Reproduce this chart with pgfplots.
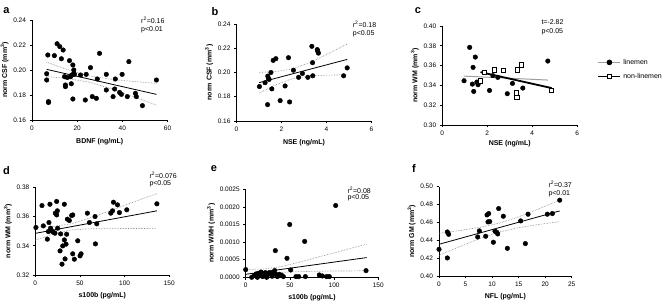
\documentclass[border=0pt]{standalone}
\usepackage{fontspec}
\setmainfont{Liberation Sans}
\usepackage{pgfplots}
\pgfplotsset{compat=1.18}
\definecolor{bandgray}{gray}{0.5}
\definecolor{linegray}{gray}{0.62}

\pgfplotsset{
  gp/.style={
    scale only axis,
    anchor=south west,
    axis lines=left,
    axis line style={-, line width=0.7pt, black},
    every tick/.style={black, line width=0.7pt},
    tick align=outside,
    major tick length=2.5pt,
    minor tick num=0,
    clip=false,
    tick label style={font=\fontsize{6.5}{7}\selectfont},
    label style={font=\fontsize{7}{8}\selectfont\bfseries},
    /pgf/number format/assume math mode=true,
    ylabel style={at={(ticklabel cs:0.5)}, anchor=near ticklabel, inner sep=1.2pt},
    xlabel style={anchor=center},
  },
  y2/.style={yticklabel style={/pgf/number format/.cd, fixed, fixed zerofill, precision=2}},
  pts/.style={only marks, mark=*, mark size=2.3pt, black, mark options={fill=black}},
  reg/.style={no marks, black, line width=0.8pt},
  band/.style={no marks, bandgray, densely dotted, line width=0.6pt},
}

\begin{document}
\begin{tikzpicture}[x=1pt,y=1pt]
\path[use as bounding box] (0,0) rectangle (668,302);

% ---------------- a ----------------
\begin{axis}[gp, y2, at={(32pt,182pt)}, width=135.5pt, height=100pt,
  xmin=0, xmax=60, ymin=0.16, ymax=0.24,
  xtick={0,20,40,60}, ytick={0.16,0.18,0.20,0.22,0.24},
  xlabel={BDNF (ng/mL)}, ylabel={norm CSF (mm\textsuperscript{3})},
  xlabel style={at={(axis description cs:0.5,-0.22)}}]
\addplot[pts] coordinates {(7.0,0.2120)(6.5,0.1970)(6.5,0.1920)(7.3,0.1747)(7.3,0.1740)(9.9,0.2115)(11.1,0.2210)(12.3,0.2187)(13.8,0.2160)(13.0,0.2090)(14.4,0.1947)(14.8,0.1880)(14.8,0.1867)(15.6,0.1940)(16.6,0.2075)(17.1,0.1947)(17.4,0.1890)(18.1,0.2040)(18.5,0.2000)(18.5,0.1970)(18.1,0.1768)(17.6,0.1960)(18.8,0.1965)(21.5,0.1960)(23.6,0.1760)(24.0,0.1965)(25.9,0.2019)(26.7,0.1787)(28.5,0.1773)(28.9,0.1928)(29.9,0.2133)(32.9,0.1840)(32.9,0.1965)(35.9,0.1787)(36.6,0.1848)(36.9,0.1928)(38.8,0.1820)(39.6,0.1805)(39.9,0.1965)(42.2,0.1787)(42.9,0.2067)(45.8,0.1813)(46.2,0.1787)(48.9,0.1715)(55.1,0.1920)};
\addplot[reg] coordinates {(6.5,0.2005)(55.1,0.1805)};
\addplot[band] coordinates {(6.5,0.2062)(15,0.2008)(25,0.1954)(35,0.1926)(45,0.1908)(55.1,0.1893)};
\addplot[band] coordinates {(6.5,0.1948)(15,0.1933)(25,0.1904)(35,0.1851)(45,0.1786)(55.1,0.1719)};
\end{axis}

% ---------------- b ----------------
\begin{axis}[gp, y2, at={(236.5pt,181pt)}, width=135pt, height=97pt,
  xmin=0, xmax=6, ymin=0.16, ymax=0.24,
  xtick={0,2,4,6}, ytick={0.16,0.18,0.20,0.22,0.24},
  xlabel={NSE (ng/mL)}, ylabel={norm CSF (mm\textsuperscript{3})},
  xlabel style={at={(axis description cs:0.5,-0.225)}}]
\addplot[pts] coordinates {(1.02,0.1884)(1.27,0.1916)(1.39,0.1970)(1.42,0.1951)(1.45,0.1943)(1.53,0.2000)(1.57,0.1865)(1.38,0.1735)(1.63,0.2100)(1.75,0.2114)(1.94,0.1768)(2.16,0.1889)(2.31,0.2122)(2.36,0.1757)(2.53,0.2019)(2.76,0.1960)(2.93,0.1992)(3.17,0.1960)(3.35,0.2216)(3.38,0.2081)(3.39,0.1973)(3.59,0.2189)(3.61,0.2176)(3.64,0.2160)(4.76,0.1973)(4.92,0.2038)};
\addplot[reg] coordinates {(1.0,0.1916)(4.92,0.2108)};
\addplot[band] coordinates {(1.0,0.2001)(1.75,0.2008)(2.5,0.2030)(3.25,0.2081)(4.0,0.2148)(4.92,0.2235)};
\addplot[band] coordinates {(1.0,0.1831)(1.75,0.1898)(2.5,0.1950)(3.25,0.1971)(4.0,0.1978)(4.92,0.1981)};
\end{axis}

% ---------------- c ----------------
\begin{axis}[gp, y2, at={(442.2pt,177pt)}, width=135.1pt, height=99pt,
  xmin=0, xmax=6, ymin=0.30, ymax=0.40,
  xtick={0,2,4,6}, ytick={0.30,0.32,0.34,0.36,0.38,0.40},
  xlabel={NSE (ng/mL)}, ylabel={norm WM (mm\textsuperscript{3})},
  xlabel style={at={(axis description cs:0.5,-0.19)}},
  legend style={at={(axis description cs:1.148,0.561)}, anchor=west, draw=none, fill=none,
    font=\fontsize{7}{8}\selectfont, row sep=3.5pt, inner sep=0pt, cells={anchor=west}},
  legend image code/.code={\draw[mark repeat=2,mark phase=2] plot coordinates {(0pt,0pt) (11pt,0pt) (22pt,0pt)};}]
\addlegendimage{linegray, line width=1pt, mark=*, mark size=2.3pt, mark options={black, fill=black, solid}}
\addlegendentry{linemen}
\addlegendimage{black, line width=1.8pt, mark=square*, mark size=2.2pt, mark options={fill=white, draw=black, line width=0.7pt, solid}}
\addlegendentry{non-linemen}
\addplot[forget plot, no marks, linegray, line width=1pt] coordinates {(0.97,0.3494)(4.69,0.3454)};
\addplot[forget plot, no marks, black, line width=1.8pt] coordinates {(1.70,0.3534)(4.86,0.3373)};
\addplot[forget plot, pts] coordinates {(0.97,0.3447)(1.22,0.3784)(1.37,0.3582)(1.34,0.3413)(1.40,0.3339)(1.47,0.3686)(1.54,0.3434)(1.59,0.3407)(2.10,0.3349)(2.25,0.3498)(2.47,0.3481)(2.89,0.3316)(3.12,0.3420)(3.58,0.3373)(4.69,0.3646)};
\addplot[forget plot, only marks, mark=square*, mark size=2.2pt, mark options={fill=white, draw=black, line width=0.7pt}] coordinates {(1.70,0.3447)(1.88,0.3531)(2.32,0.3558)(2.71,0.3555)(3.33,0.3558)(3.52,0.3609)(3.30,0.3323)(3.31,0.3282)(4.86,0.3349)};
\end{axis}

% ---------------- d ----------------
\begin{axis}[gp, y2, at={(35.3pt,27pt)}, width=134pt, height=87.7pt,
  xmin=0, xmax=150, ymin=0.32, ymax=0.38,
  xtick={0,50,100,150}, ytick={0.32,0.34,0.36,0.38},
  xlabel={s100b (pg/mL)}, ylabel={norm WM (mm\textsuperscript{3})},
  xlabel style={at={(axis description cs:0.5,-0.235)}}]
\addplot[pts] coordinates {(0.7,0.3525)(7.5,0.3675)(9.0,0.3536)(13.5,0.3445)(14.6,0.3497)(15.3,0.3559)(16.4,0.3684)(17.2,0.3520)(18.3,0.3502)(20.2,0.3493)(22.0,0.3486)(22.4,0.3623)(23.9,0.3703)(23.9,0.3611)(24.7,0.3639)(25.0,0.3520)(27.7,0.3365)(28.4,0.3481)(29.9,0.3274)(30.7,0.3399)(32.5,0.3684)(32.5,0.3440)(33.3,0.3310)(34.4,0.3411)(35.1,0.3479)(35.9,0.3582)(38.1,0.3573)(40.7,0.3607)(41.9,0.3611)(41.9,0.3345)(43.7,0.3308)(47.5,0.3434)(50.1,0.3331)(51.2,0.3345)(58.3,0.3623)(60.6,0.3559)(66.9,0.3600)(67.3,0.3413)(68.8,0.3550)(84.5,0.3623)(86.4,0.3639)(87.5,0.3698)(92.0,0.3680)(94.2,0.3627)(102.4,0.3646)(136.1,0.3687)};
\addplot[reg] coordinates {(0,0.3485)(136.1,0.3639)};
\addplot[band] coordinates {(0,0.3530)(20,0.3532)(40,0.3550)(60,0.3588)(80,0.3631)(100,0.3676)(120,0.3722)(136.1,0.3756)};
\addplot[band] coordinates {(0,0.3438)(20,0.3480)(40,0.3508)(60,0.3516)(80,0.3517)(100,0.3518)(120,0.3518)(136.1,0.3519)};
\end{axis}

% ---------------- e ----------------
\begin{axis}[gp, at={(245.7pt,24.7pt)}, width=132.6pt, height=88pt,
  xmin=0, xmax=150, ymin=0, ymax=0.0025,
  xtick={0,50,100,150}, ytick={0,0.0005,0.0010,0.0015,0.0020,0.0025},
  scaled y ticks=false,
  yticklabel style={/pgf/number format/.cd, fixed, fixed zerofill, precision=4},
  xlabel={s100b (pg/mL)}, ylabel={norm WMH (mm\textsuperscript{3})},
  xlabel style={at={(axis description cs:0.5,-0.235)}}]
\addplot[pts] coordinates {(0,0.000218)(6.8,0)(9.4,0.000047)(11.7,0.000095)(13.2,0)(14.3,0.000114)(16.2,0.000047)(17.3,0.00015)(19.2,0.00002)(20.7,0.000085)(22.2,0.000133)(23.7,0)(25.3,0.000085)(26.8,0.000133)(28.6,0.000114)(29.8,0.00003)(31.3,0.00015)(32.8,0.00019)(33.5,0.000758)(34.3,0.000085)(35.8,0.00002)(38.1,0.000085)(40.7,0.000057)(42.6,0.00002)(46.7,0.00054)(49.8,0.0015)(50.9,0.000208)(56.9,0.00002)(60.0,0.00002)(66.7,0.00102)(67.5,0.00002)(83.3,0.000066)(86.7,0.000038)(91.6,0.00002)(94.6,0.00002)(101.8,0.00204)(136.1,0.00019)};
\addplot[reg] coordinates {(0,0.000085)(136.8,0.00056)};
\addplot[band] coordinates {(0,0.000225)(20,0.000234)(40,0.000304)(60,0.000423)(80,0.000563)(100,0.000692)(120,0.000831)(136.8,0.00094)};
\addplot[band] coordinates {(0,0)(20,0.00007)(40,0.00014)(60,0.00016)(80,0.00017)(100,0.00018)(120,0.00018)(136.8,0.00019)};
\end{axis}

% ---------------- f ----------------
\begin{axis}[gp, y2, at={(439pt,26pt)}, width=132.7pt, height=89.3pt,
  xmin=0, xmax=25, ymin=0.40, ymax=0.50,
  xtick={0,5,10,15,20,25}, ytick={0.40,0.42,0.44,0.46,0.48,0.50},
  xlabel={NFL (pg/mL)}, ylabel={norm GM (mm\textsuperscript{3})},
  xlabel style={at={(axis description cs:0.5,-0.23)}}]
\addplot[pts] coordinates {(0,0.4299)(1.57,0.4202)(1.57,0.4493)(1.82,0.4467)(7.29,0.4437)(7.6,0.4505)(8.79,0.4445)(9.05,0.4684)(9.36,0.4699)(9.23,0.4606)(9.55,0.4609)(10.24,0.4378)(10.55,0.4501)(10.87,0.4490)(11.06,0.4471)(11.24,0.4755)(12.12,0.4669)(12.88,0.4310)(15.39,0.4617)(16.27,0.4363)(16.77,0.4692)(20.41,0.4692)(21.36,0.4699)(22.74,0.4849)};
\addplot[reg] coordinates {(0,0.4355)(22.74,0.4729)};
\addplot[band] coordinates {(0,0.4478)(4,0.4510)(8,0.4548)(11.5,0.4594)(15,0.4663)(19,0.4757)(22.74,0.4850)};
\addplot[band] coordinates {(0,0.4232)(4,0.4332)(8,0.4426)(11.5,0.4494)(15,0.4541)(19,0.4579)(22.74,0.4608)};
\end{axis}

% ---------------- annotations ----------------
\begin{scope}[every node/.style={anchor=west, inner sep=0pt, font=\fontsize{7}{8}\selectfont}]
\node at (141,281.5) {r\textsuperscript{2}=0.16};
\node at (141,272) {p<0.01};
\node at (352.7,277.3) {r\textsuperscript{2}=0.18};
\node at (352.7,268.3) {p<0.05};
\node at (541.3,279.5) {t=-2.82};
\node at (541.3,270.5) {p<0.05};
\node at (149.3,126.5) {r\textsuperscript{2}=0.076};
\node at (149.3,118) {p<0.05};
\node at (347.3,111.5) {r\textsuperscript{2}=0.08};
\node at (347.3,104) {p<0.05};
\node at (548.3,117.3) {r\textsuperscript{2}=0.37};
\node at (548.3,108.7) {p<0.01};
\end{scope}
\begin{scope}[every node/.style={anchor=center, inner sep=0pt, font=\fontsize{11}{12}\selectfont\bfseries}]
\node at (6.5,291) {a};
\node at (215,290) {b};
\node at (418,291) {c};
\node at (6.5,131) {d};
\node at (214,133) {e};
\node at (414,133) {f};
\end{scope}
\end{tikzpicture}
\end{document}
